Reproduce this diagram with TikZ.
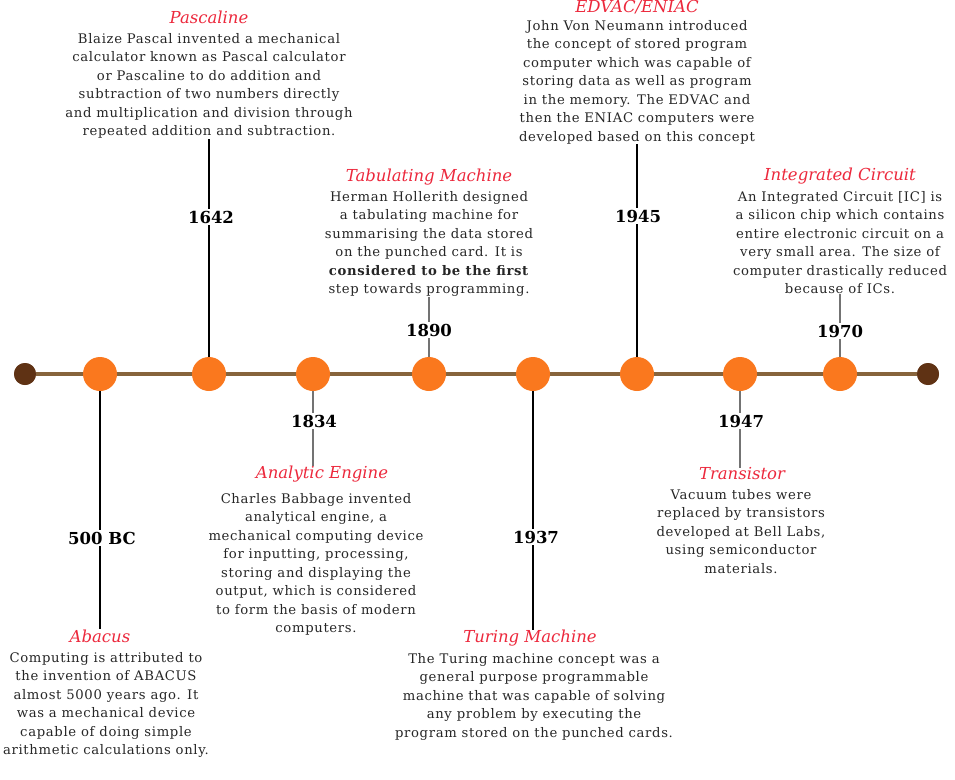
\documentclass[tikz,border=0pt]{standalone}
\usepackage{fontspec}
\setmainfont{DejaVu Serif}[LetterSpace=5]
\newfontfamily\yrfont{DejaVu Serif}
\definecolor{titlered}{RGB}{236,40,60}
\definecolor{dotorange}{RGB}{250,120,30}
\definecolor{enddot}{RGB}{95,50,20}
\definecolor{axis}{RGB}{135,100,60}
\begin{document}
\begin{tikzpicture}[x=1pt,y=-1pt,
  dot/.style={circle,fill=dotorange,minimum size=34pt,inner sep=0},
  enddotstyle/.style={circle,fill=enddot,minimum size=22pt,inner sep=0},
  ttl/.style={text=titlered,font=\yrfont\fontsize{16.5}{18}\selectfont\itshape,inner sep=0},
  body/.style={align=center,font=\fontsize{13.2}{18.5}\selectfont,text=black!85,inner sep=0,anchor=north},
  yr/.style={fill=white,font=\yrfont\fontsize{16.5}{18}\selectfont\bfseries,inner sep=2pt},
  conn/.style={line width=1.3pt,black},
  sconn/.style={line width=1.3pt,black!55}]
\useasboundingbox (0,0) rectangle (955,779);
% axis
\node[enddotstyle] (e1) at (25,374) {};
\node[enddotstyle] (e2) at (928,374) {};
\draw[axis,line width=3.5pt] (e1) -- (e2);
\node[enddotstyle] at (25,374) {};
\node[enddotstyle] at (928,374) {};
\foreach \n/\x in {c1/100,c2/209,c3/313,c4/429,c5/533,c6/637,c7/740,c8/840}
  \node[dot] (\n) at (\x,374) {};
% texts
\node[ttl] (t1) at (100,636) {Abacus};
\node[body] (b1) at (106,652) {Computing is attributed to\\the invention of ABACUS\\almost 5000 years ago. It\\was a mechanical device\\capable of doing simple\\arithmetic calculations only.};
\node[ttl] (t2) at (209,17) {Pascaline};
\node[body] (b2) at (209,33) {Blaize Pascal invented a mechanical\\calculator known as Pascal calculator\\or Pascaline to do addition and\\subtraction of two numbers directly\\and multiplication and division through\\repeated addition and subtraction.};
\node[ttl] (t3) at (322,474) {Analytic Engine};
\node[body] (b3) at (316,493) {Charles Babbage invented\\analytical engine, a\\mechanical computing device\\for inputting, processing,\\storing and displaying the\\output, which is considered\\to form the basis of modern\\computers.};
\node[ttl] (t4) at (429,177) {Tabulating Machine};
\node[body] (b4) at (429,191) {Herman Hollerith designed\\a tabulating machine for\\summarising the data stored\\on the punched card. It is\\\textbf{considered to be the first}\\step towards programming.};
\node[ttl] (t5) at (530,638) {Turing Machine};
\node[body] (b5) at (534,653) {The Turing machine concept was a\\general purpose programmable\\machine that was capable of solving\\any problem by executing the\\program stored on the punched cards.};
\node[ttl] (t6) at (637,7) {EDVAC/ENIAC};
\node[body] (b6) at (637,20) {John Von Neumann introduced\\the concept of stored program\\computer which was capable of\\storing data as well as program\\in the memory. The EDVAC and\\then the ENIAC computers were\\developed based on this concept};
\node[ttl] (t7) at (742,474) {Transistor};
\node[body] (b7) at (741,489) {Vacuum tubes were\\replaced by transistors\\developed at Bell Labs,\\using semiconductor\\materials.};
\node[ttl] (t8) at (840,176) {Integrated Circuit};
\node[body] (b8) at (840,191) {An Integrated Circuit [IC] is\\a silicon chip which contains\\entire electronic circuit on a\\very small area. The size of\\computer drastically reduced\\because of ICs.};
% connectors
\draw[conn] (c1) -- (c1 |- t1.north);
\draw[conn] (c2) -- (c2 |- b2.south);
\draw[sconn] (c3) -- (c3 |- t3.north);
\draw[sconn] (c4) -- (c4 |- b4.south);
\draw[conn] (c5) -- (c5 |- t5.north);
\draw[conn] (c6) -- (c6 |- b6.south);
\draw[sconn] (c7) -- (c7 |- t7.north);
\draw[sconn] (c8) -- (c8 |- b8.south);
% year labels
\node[yr] (y1) at (102,538) {500 BC};
\node[yr] (y2) at (211,217) {1642};
\node[yr] (y3) at (314,421) {1834};
\node[yr] (y4) at (429,330) {1890};
\node[yr] (y5) at (536,537) {1937};
\node[yr] (y6) at (638,216) {1945};
\node[yr] (y7) at (741,421) {1947};
\node[yr] (y8) at (840,331) {1970};
\end{tikzpicture}
\end{document}
